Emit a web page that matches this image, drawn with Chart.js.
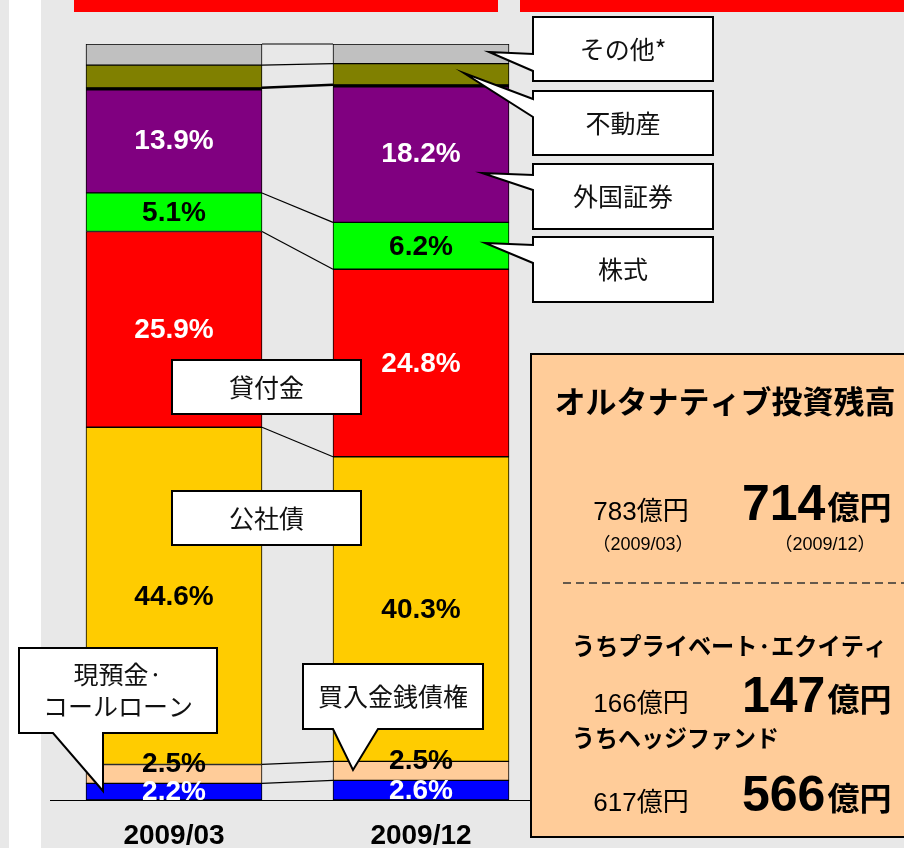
<!DOCTYPE html>
<html>
<head>
<meta charset="utf-8">
<script src="https://cdn.jsdelivr.net/npm/chart.js@4.4.1/dist/chart.umd.min.js"></script>
<style>
  body { margin: 0; background: #e8e8e8; }
  #wrap { position: relative; width: 904px; height: 848px; overflow: hidden; }
  .strip { position: absolute; left: 9px; top: 0; width: 32px; height: 848px; background: #ffffff; }
  .redbar { position: absolute; top: 0; height: 12px; background: #ff0000; }
  #box { position: absolute; left: 0; top: 0; width: 904px; height: 848px; }
</style>
</head>
<body>
<div id="wrap">
  <div class="strip"></div>
  <div class="redbar" style="left:74px;width:424px"></div>
  <div class="redbar" style="left:520px;width:384px"></div>
  <div id="box"><canvas id="myChart"></canvas></div>
</div>
<script>
// periods and asset mix (%), bottom to top
let periods = ['2009/03', '2009/12'];
let cash_call = [2.2, 2.6];
let monetary_claims = [2.5, 2.5];
let bonds = [44.6, 40.3];
let loans = [25.9, 24.8];
let stocks = [5.1, 6.2];
let foreign_securities = [13.9, 18.2];
let real_estate = [3.0, 2.8];
let others = [2.8, 2.6];

// alternative investment balance (億円)
let alt_titles = ['オルタナティブ投資残高', 'うちプライベート·エクイティ', 'うちヘッジファンド'];
let alt_before = [783, 166, 617];
let alt_after = [714, 147, 566];

const JP = "'Noto Sans CJK JP'";
const LAT = "'Liberation Sans', 'Noto Sans CJK JP'";

function makeSet(label, data, color, labelColor, extra) {
    return Object.assign({
        label: label,
        data: data,
        backgroundColor: color,
        borderColor: '#000000',
        borderWidth: 1,
        borderSkipped: false,
        labelColor: labelColor,
        labelShift: 0
    }, extra || {});
}

const datasets = [
    makeSet('現預金・コールローン', cash_call, '#0000ff', '#ffffff'),
    makeSet('買入金銭債権', monetary_claims, '#ffcc99', '#000000', { labelShift: -11 }),
    makeSet('公社債', bonds, '#ffcc00', '#000000'),
    makeSet('貸付金', loans, '#ff0000', '#ffffff'),
    makeSet('株式', stocks, '#00ff00', '#000000'),
    makeSet('外国証券', foreign_securities, '#800080', '#ffffff', { borderWidth: { top: 3, left: 1, right: 1, bottom: 1 }, lineW: 2.5 }),
    makeSet('不動産', real_estate, '#808000', null),
    makeSet('その他*', others, '#c0c0c0', null)
];

// lines joining segment tops between the two bars
const seriesLines = {
    id: 'seriesLines',
    afterDatasetsDraw(chart) {
        const ctx = chart.ctx;
        ctx.save();
        ctx.strokeStyle = '#000';
        chart.data.datasets.forEach((ds, i) => {
            const bars = chart.getDatasetMeta(i).data;
            const a = bars[0], b = bars[1];
            ctx.lineWidth = ds.lineW || 1.2;
            ctx.beginPath();
            ctx.moveTo(a.x + a.width / 2, a.y);
            ctx.lineTo(b.x - b.width / 2, b.y);
            ctx.stroke();
        });
        ctx.restore();
    }
};

// percentage labels inside segments
const segLabels = {
    id: 'segLabels',
    afterDatasetsDraw(chart) {
        const ctx = chart.ctx;
        ctx.save();
        ctx.font = "bold 28px " + LAT;
        ctx.textAlign = 'center';
        ctx.textBaseline = 'middle';
        chart.data.datasets.forEach((ds, i) => {
            if (!ds.labelColor) return;
            chart.getDatasetMeta(i).data.forEach((bar, j) => {
                ctx.fillStyle = ds.labelColor;
                ctx.fillText(ds.data[j].toFixed(1) + '%', bar.x, (bar.y + bar.base) / 2 + ds.labelShift + 1);
            });
        });
        ctx.restore();
    }
};

function callout(ctx, c) {
    const [x1, y1, x2, y2] = c.box;
    ctx.beginPath();
    ctx.moveTo(x1, y1);
    ctx.lineTo(x2, y1);
    ctx.lineTo(x2, y2);
    if (c.side === 'bottom') {
        ctx.lineTo(c.base[1], y2);
        ctx.lineTo(c.tip[0], c.tip[1]);
        ctx.lineTo(c.base[0], y2);
        ctx.lineTo(x1, y2);
    } else if (c.side === 'left') {
        ctx.lineTo(x1, y2);
        ctx.lineTo(x1, c.base[1]);
        ctx.lineTo(c.tip[0], c.tip[1]);
        ctx.lineTo(x1, c.base[0]);
    } else {
        ctx.lineTo(x1, y2);
    }
    ctx.closePath();
    ctx.fillStyle = '#ffffff';
    ctx.fill();
    ctx.lineWidth = 2;
    ctx.strokeStyle = '#000';
    ctx.stroke();

    ctx.fillStyle = '#111';
    ctx.font = "25px " + JP;
    ctx.textAlign = 'center';
    ctx.textBaseline = 'middle';
    const cx = (x1 + x2) / 2, cy = (y1 + y2) / 2;
    const lh = 32;
    c.text.forEach((t, k) => {
        ctx.fillText(t, cx, cy + (k - (c.text.length - 1) / 2) * lh);
    });
}

const callouts = [
    { text: ['その他*'], box: [533, 17, 713, 81], side: 'left', tip: [489, 52], base: [54, 71] },
    { text: ['不動産'], box: [533, 91, 713, 155], side: 'left', tip: [464, 73], base: [99, 117] },
    { text: ['外国証券'], box: [533, 164, 713, 229], side: 'left', tip: [482, 173], base: [175, 190] },
    { text: ['株式'], box: [533, 237, 713, 302], side: 'left', tip: [485, 243], base: [245, 263] },
    { text: ['貸付金'], box: [172, 360, 361, 414] },
    { text: ['公社債'], box: [172, 491, 361, 545] },
    { text: ['現預金·', 'コールローン'], box: [19, 648, 217, 733], side: 'bottom', tip: [103, 791], base: [53, 103] },
    { text: ['買入金銭債権'], box: [303, 664, 483, 729], side: 'bottom', tip: [353, 770], base: [333, 378] }
];

function bigAmount(ctx, value, x, y) {
    ctx.textAlign = 'left';
    ctx.textBaseline = 'alphabetic';
    ctx.font = "bold 50px " + LAT;
    ctx.fillText(String(value), x, y);
    const w = ctx.measureText(String(value)).width;
    ctx.font = "bold 32px " + JP;
    ctx.fillText('億円', x + w + 2, y - 1);
}

const annotations = {
    id: 'annotations',
    afterDraw(chart) {
        const ctx = chart.ctx;
        ctx.save();
        callouts.forEach(c => callout(ctx, c));

        // alternative investment box
        ctx.fillStyle = '#ffcc99';
        ctx.fillRect(531, 354, 380, 483);
        ctx.lineWidth = 2;
        ctx.strokeStyle = '#000';
        ctx.strokeRect(531, 354, 380, 483);

        ctx.fillStyle = '#000';
        ctx.textAlign = 'center';
        ctx.textBaseline = 'middle';
        ctx.font = "bold 31px " + JP;
        ctx.fillText(alt_titles[0], 725, 401, 345);

        const rows = [520, 712, 811];
        rows.forEach((y, k) => {
            ctx.fillStyle = '#000';
            ctx.textAlign = 'center';
            ctx.textBaseline = 'alphabetic';
            ctx.font = "26px " + LAT;
            ctx.fillText(alt_before[k] + '億円', 641, y);
            bigAmount(ctx, alt_after[k], 742, y);
        });

        ctx.textAlign = 'center';
        ctx.textBaseline = 'alphabetic';
        ctx.font = "18px " + LAT;
        ctx.fillText('（' + periods[0] + '）', 643, 550);
        ctx.fillText('（' + periods[1] + '）', 825, 550);

        ctx.setLineDash([8, 5]);
        ctx.lineWidth = 1.5;
        ctx.strokeStyle = '#333';
        ctx.beginPath();
        ctx.moveTo(563, 583);
        ctx.lineTo(904, 583);
        ctx.stroke();
        ctx.setLineDash([]);

        ctx.textAlign = 'left';
        ctx.textBaseline = 'middle';
        ctx.font = "bold 24px " + JP;
        ctx.fillText(alt_titles[1], 572, 646, 315);
        ctx.fillText(alt_titles[2], 572, 738, 207);
        ctx.restore();
    }
};

var ctx = document.getElementById('myChart');
var myChart = new Chart(ctx, {
    type: 'bar',
    data: { labels: periods, datasets: datasets },
    options: {
        responsive: true,
        maintainAspectRatio: false,
        animation: false,
        layout: { padding: { left: 50.5, right: 359.5, top: 44, bottom: 0 } },
        scales: {
            x: {
                stacked: true,
                grid: { display: false, drawTicks: false },
                border: { display: true, color: '#000', width: 1 },
                ticks: { color: '#000', padding: 19, font: { family: 'Liberation Sans', size: 28, weight: 'bold' } },
                afterFit: function (axis) { axis.height = 48; }
            },
            y: { stacked: true, display: false, min: 0, max: 100 }
        },
        datasets: { bar: { barThickness: 176 } },
        plugins: { legend: { display: false }, tooltip: { enabled: false } }
    },
    plugins: [seriesLines, segLabels, annotations]
});
</script>
</body>
</html>
